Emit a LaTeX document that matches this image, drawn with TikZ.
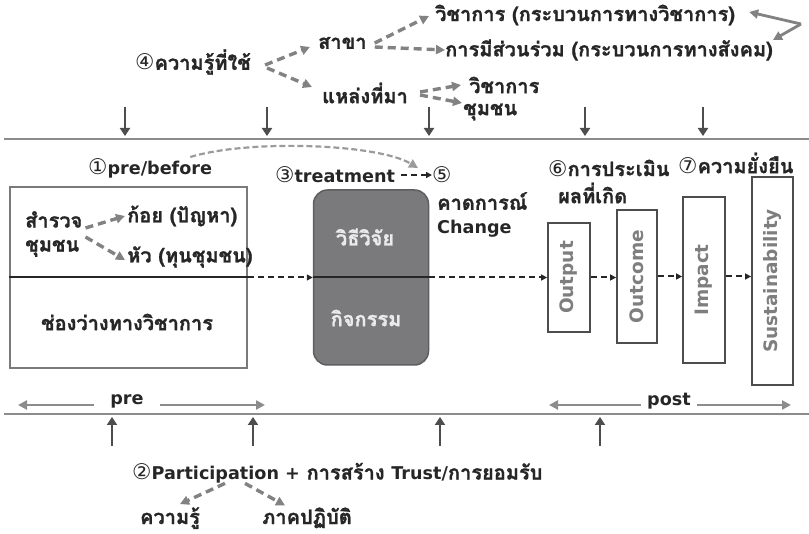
\documentclass[tikz,border=0pt]{standalone}
\usepackage{fontspec}
\setmainfont{Loma}[Script=Thai, BoldFeatures={FakeBold=1.2}]
\newfontfamily\enfont{DejaVu Sans}[Scale=0.88]
\newfontfamily\circfont{DejaVu Sans}[Scale=1.08]
\usepackage{tikz}
\usetikzlibrary{positioning, calc, arrows.meta}
\definecolor{txt}{HTML}{262626}
\definecolor{railgray}{HTML}{8C8C8C}
\definecolor{dashgray}{HTML}{828282}
\definecolor{pingray}{HTML}{4D4D4D}
\definecolor{boxgray}{HTML}{7A7A7A}
\definecolor{treatfill}{HTML}{7A7A7C}
\definecolor{treatedge}{HTML}{5E5E60}
\definecolor{vtext}{HTML}{7E7E7E}
\newcommand{\cnum}[1]{{\circfont\mdseries #1}}
\newcommand{\en}[1]{{\enfont #1}}

\begin{document}
\begin{tikzpicture}[x=1pt, y=-1pt, >={Triangle[length=9pt,width=9pt]},
	lbl/.style={inner sep=0pt, text=txt, font=\fontsize{20}{24}\selectfont\bfseries},
	rail/.style={draw=railgray, line width=2.6pt},
	pin/.style={draw=pingray, line width=2.6pt, >={Triangle[length=8pt,width=10pt]}},
	gdash/.style={draw=dashgray, line width=3.4pt, dash pattern=on 8pt off 5pt},
	gsolid/.style={draw=dashgray, line width=2.8pt},
	kdash/.style={draw=txt, line width=2pt, dash pattern=on 6pt off 4pt,
		>={Triangle[length=6pt,width=6pt]}},
	axisline/.style={draw=txt, line width=2pt},
	curvearrow/.style={draw=dashgray!80, line width=2.2pt, dash pattern=on 6pt off 3pt},
	vbox/.style={draw=pingray, line width=1.8pt, rotate=90, inner sep=0pt,
		text=vtext, font=\enfont\fontsize{21}{24}\selectfont\bfseries}]
	\useasboundingbox (0,0) rectangle (809,534);

	% the two rails
	\coordinate (railL) at (4,139);
	\coordinate (railR) at (809,139);
	\draw[rail] (railL) -- (railR);
	\coordinate (baseL) at (4,414);
	\coordinate (baseR) at (809,414);
	\draw[rail] (baseL) -- (baseR);
	\foreach \x [count=\i] in {125,267,429,585,703} {
		\coordinate (down\i) at (\x,136);
		\draw[pin,->] ($(down\i)+(0,-29)$) -- (down\i);
	}
	\foreach \x [count=\i] in {112,253,440,600} {
		\coordinate (up\i) at (\x,417);
		\draw[pin,->] ($(up\i)+(0,29)$) -- (up\i);
	}

	% knowledge in use
	\node[lbl, anchor=west] (use) at (135,62) {\cnum{④}ความรู้ที่ใช้};
	\node[lbl, anchor=west] (branch) at (318,43) {สาขา};
	\node[lbl, anchor=west] (source) at (322,93) {แหล่งที่มา};
	\node[lbl, anchor=west] (acad) at (435,15) {วิชาการ (กระบวนการทางวิชาการ)};
	\node[lbl, anchor=west] (social) at (445,50) {การมีส่วนร่วม (กระบวนการทางสังคม)};
	\node[lbl, anchor=west] (acadsrc) at (469,85) {วิชาการ};
	\node[lbl, anchor=west] (commsrc) at (463,112) {ชุมชน};
	\draw[gdash,->] ($(use.east)+(14,3)$) -- ($(branch.west)+(-8,4)$);
	\draw[gdash,->] ($(use.east)+(16,6)$) -- ($(source.west)+(-10,-6)$);
	\draw[gdash,->] ($(branch.east)+(8,0)$) -- ($(acad.west)+(-6,1)$);
	\draw[gdash,->] ($(branch.east)+(8,4)$) -- (social.west);
	\draw[gdash,->] ($(source.east)+(12,-1)$) -- ($(acadsrc.west)+(-8,0)$);
	\draw[gdash,->] ($(source.east)+(12,2)$) -- ($(commsrc.west)+(-1,-9)$);
	\coordinate (bend) at (801,24);
	\draw[gsolid,->] (bend) -- ($(acad.east)+(14,-3)$);
	\draw[gsolid,->] (bend) -- ($(social.east)+(0,-10)$);

	% pre
	\node[lbl, anchor=west] (prelabel) at (88,168) {\cnum{①}\en{pre/before}};
	\node[draw=boxgray, line width=2.5pt, minimum width=237pt, minimum height=181pt,
		inner sep=0pt] (prebox) at (128.5,277.5) {};
	\node[lbl, anchor=west, align=left] (survey) at (25,234) {สำรวจ\\ชุมชน};
	\node[lbl, anchor=west] (koi) at (127,216) {ก้อย (ปัญหา)};
	\node[lbl, anchor=west] (hua) at (127,257) {หัว (ทุนชุมชน)};
	\draw[gdash,->] ($(survey.east)+(3,-6)$) -- ($(koi.west)+(-2,0)$);
	\draw[gdash,->] ($(survey.east)+(3,3)$) -- ($(hua.west)+(-2,3)$);
	\node[lbl] (gap) at (127,322) {ช่องว่างทางวิชาการ};
	\draw[axisline] (prebox.west) -- (prebox.east);

	% treatment
	\node[lbl, anchor=west] (treatlabel) at (275,175) {\cnum{③}\en{treatment}};
	\node[lbl, anchor=west] (five) at (432,175) {\cnum{⑤}};
	\draw[kdash,->] ($(treatlabel.east)+(6,0)$) -- (five.west);
	\draw[curvearrow,->] ($(prelabel.north east)+(-22,-1)$) .. controls +(60,-18) and +(-40,-24) .. ($(five.west)+(-14,-7)$);
	\node[lbl, anchor=north west, align=left] (expect) at (437,192) {คาดการณ์\\\en{Change}};
	\node[draw=treatedge, fill=treatfill, rounded corners=14pt, line width=1.5pt,
		minimum width=115pt, minimum height=175pt] (treat) at (371,277.5) {};
	\node[lbl, text=white!92!black] (method) at (365,237) {วิธีวิจัย};
	\node[lbl, text=white!92!black] (activity) at (366,318) {กิจกรรม};
	\draw[kdash,->] (prebox.east) -- (treat.west |- prebox.east);
	\draw[axisline] (treat.west |- prebox.east) -- (treat.east |- prebox.east);

	% post
	\node[lbl, anchor=west] (eval) at (548,168) {\cnum{⑥}การประเมิน};
	\node[lbl, anchor=west] (evalres) at (558,193) {ผลที่เกิด};
	\node[lbl, anchor=west] (lasting) at (678,163) {\cnum{⑦}ความยั่งยืน};
	\node[vbox, minimum width=109pt, minimum height=42pt] (output) at (569,277.5) {Output};
	\node[vbox, minimum width=133pt, minimum height=40pt] (outcome) at (637,276.5) {Outcome};
	\node[vbox, minimum width=166pt, minimum height=42pt] (impact) at (704,280) {Impact};
	\node[vbox, minimum width=208pt, minimum height=41pt] (sustain) at (772.5,281) {Sustainability};
	\draw[kdash,->] (treat.east |- prebox.east) -- (output.north |- prebox.east);
	\draw[kdash,->] (output.south) -- (outcome.north |- output.south);
	\draw[kdash,->] (outcome.south) -- (impact.north |- outcome.south);
	\draw[kdash,->] (impact.south |- outcome.south) -- (sustain.north |- outcome.south);

	% spans under the picture
	\node[lbl, inner xsep=16pt] (prespan) at (127,401) {\en{pre}};
	\coordinate (preL) at (18,405);
	\coordinate (preR) at (265,405);
	\draw[rail, ->] (prespan.west |- preL) -- (preL);
	\draw[rail, ->] (prespan.east |- preR) -- (preR);
	\node[lbl, inner xsep=6pt] (postspan) at (669,401) {\en{post}};
	\coordinate (postL) at (549,405);
	\coordinate (postR) at (791,405);
	\draw[rail, ->] (postspan.west |- postL) -- (postL);
	\draw[rail, ->] (postspan.east |- postR) -- (postR);

	% participation
	\node[lbl, anchor=west] (part) at (132,473) {\cnum{②}\en{Participation +} การสร้าง \en{Trust/}การยอมรับ};
	\node[lbl, anchor=base] (know) at (170,524) {ความรู้};
	\node[lbl, anchor=base] (practice) at (307,524) {ภาคปฏิบัติ};
	\draw[gdash,->] ($(part.south west)+(93,0)$) -- ($(know.north)+(10,-3)$);
	\draw[gdash,->] ($(part.south west)+(113,0)$) -- ($(practice.north)+(-22,-2)$);
\end{tikzpicture}
\end{document}
